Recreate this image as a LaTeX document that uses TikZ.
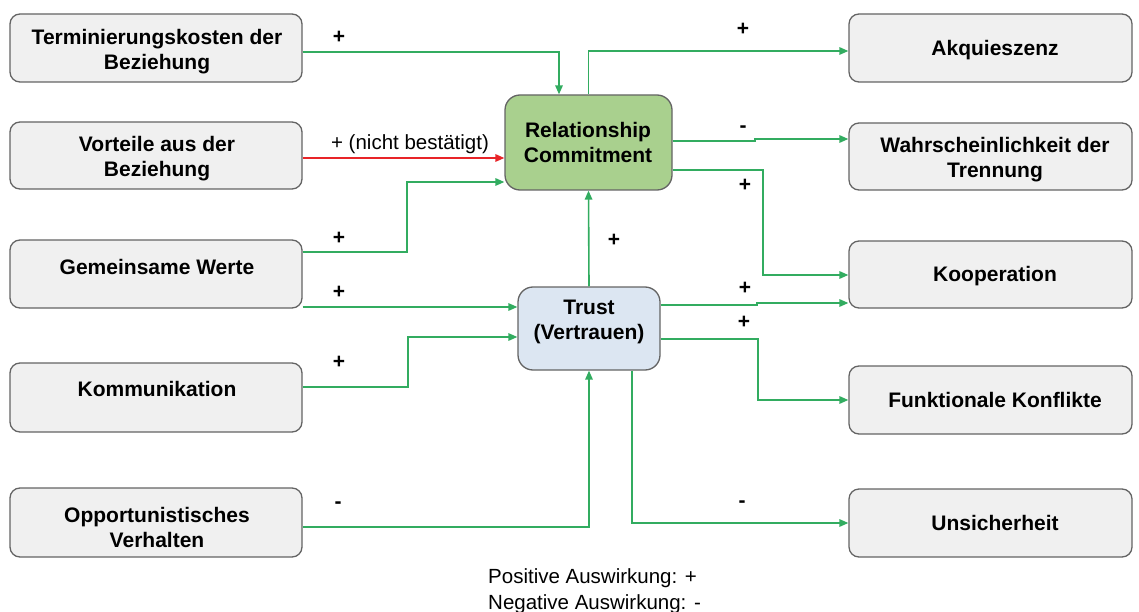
\documentclass[tikz,border=0pt]{standalone}
\usepackage{fontspec}
\setmainfont{Liberation Sans}
\usetikzlibrary{arrows.meta,calc}
\definecolor{linegreen}{RGB}{50,172,96}
\definecolor{negred}{RGB}{232,36,40}
\definecolor{boxfill}{RGB}{240,240,240}
\definecolor{boxline}{RGB}{100,100,100}
\definecolor{rcfill}{RGB}{169,208,142}
\definecolor{trustfill}{RGB}{220,230,242}
\begin{document}
\begin{tikzpicture}[x=1pt,y=-1pt,
  box/.style={draw=boxline, line width=1.3pt, fill=boxfill, rounded corners=10pt, inner sep=0pt},
  lbox/.style={box, minimum width=292pt},
  rbox/.style={box, minimum width=283pt},
  txt/.style={font=\fontsize{21}{25}\selectfont\bfseries, align=center, inner sep=0pt},
  sign/.style={font=\fontsize{21}{25}\selectfont\bfseries, inner sep=0pt},
  plain/.style={font=\fontsize{20.5}{26}\selectfont, inner sep=0pt},
  conn/.style={draw=linegreen, line width=1.6pt, -{Triangle[length=9pt,width=7.5pt]}},
  negconn/.style={conn, draw=negred}
]
\useasboundingbox (0,0) rectangle (1139,612);

% left column: influencing factors
\node[lbox, minimum height=68pt] (termin)  at (156,48)    {};
\node[lbox, minimum height=67pt] (vorteil) at (156,155.5) {};
\node[lbox, minimum height=68pt] (gemein)  at (156,274)   {};
\node[lbox, minimum height=69pt] (komm)    at (156,397.5) {};
\node[lbox, minimum height=69pt] (opport)  at (156,522.5) {};

% right column: outcomes
\node[rbox, minimum height=68pt] (akq)    at (990.5,48)    {};
\node[rbox, minimum height=67pt] (wahr)   at (990.5,156.5) {};
\node[rbox, minimum height=67pt] (koop)   at (990.5,274.5) {};
\node[rbox, minimum height=68pt] (funk)   at (990.5,400)   {};
\node[rbox, minimum height=68pt] (unsich) at (990.5,523)   {};

% central constructs
\node[box, fill=rcfill, rounded corners=15pt, minimum width=167pt, minimum height=95pt] (rc) at (588.5,142.5) {};
\node[box, fill=trustfill, rounded corners=15pt, minimum width=142pt, minimum height=83pt] (trust) at (589,328.5) {};

% box captions
\node[txt] (termin-t)  at (157,52)  {Terminierungskosten der\\Beziehung};
\node[txt] (vorteil-t) at (157,159) {Vorteile aus der\\Beziehung};
\node[txt] (gemein-t)  at (157,267) {Gemeinsame Werte};
\node[txt] (komm-t)    at (157,389) {Kommunikation};
\node[txt] (opport-t)  at (157,527) {Opportunistisches\\Verhalten};
\node[txt] (akq-t)     at (995,50)  {Akquieszenz};
\node[txt] (wahr-t)    at (995,160) {Wahrscheinlichkeit der\\Trennung};
\node[txt] (koop-t)    at (995,276) {Kooperation};
\node[txt] (funk-t)    at (995,400) {Funktionale Konflikte};
\node[txt] (unsich-t)  at (995,523) {Unsicherheit};
\node[txt] (rc-t)      at (588,142) {Relationship\\Commitment};
\node[txt] (trust-t)   at (589,322) {Trust\\(Vertrauen)};

% inputs to Relationship Commitment
\draw[conn] (termin.east |- 0,52) -- (559,52) -- (559,0 |- rc.north);
\draw[negconn] (vorteil.east |- 0,158) -- (rc.west |- 0,158);
\draw[conn] (gemein.east |- 0,252) -- (407,252) -- (407,182) -- (rc.west |- 0,182);
\draw[conn] (trust.north) -- (rc.south);

% inputs to Trust
\draw[conn] (gemein.east |- 0,307) -- (trust.west |- 0,307);
\draw[conn] (komm.east |- 0,387) -- (408,387) -- (408,337) -- (trust.west |- 0,337);
\draw[conn] (opport.east |- 0,527) -| (trust.south);

% outcomes of Relationship Commitment
\draw[conn] (rc.north) |- (akq.west |- 0,51);
\draw[conn] (rc.east |- 0,141) -- (755,141) -- (755,139) -- (wahr.west |- 0,139);
\draw[conn] (rc.east |- 0,170) -- (763,170) -- (763,275) -- (koop.west |- 0,275);

% outcomes of Trust
\draw[conn] (trust.east |- 0,305) -- (757,305) -- (757,303) -- (koop.west |- 0,303);
\draw[conn] (trust.east |- 0,339) -- (758,339) -- (758,400) -- (funk.west);
\draw[conn] (632,0 |- trust.south) -- (632,523) -- (unsich.west);

% effect signs
\node[sign] (s1)  at (339,37)  {+};
\node[plain] (s2) at (410,144) {+ (nicht bestätigt)};
\node[sign] (s3)  at (339,238) {+};
\node[sign] (s4)  at (339,292) {+};
\node[sign] (s5)  at (339,362) {+};
\node[sign] (s6)  at (338,505) {-};
\node[sign] (s7)  at (614,240) {+};
\node[sign] (s8)  at (743,29)  {+};
\node[sign] (s9)  at (743,129) {-};
\node[sign] (s10) at (745,185) {+};
\node[sign] (s11) at (745,288) {+};
\node[sign] (s12) at (744,322) {+};
\node[sign] (s13) at (742,504) {-};

% legend
\node[plain, align=left, anchor=west] (legend) at (488,591) {Positive Auswirkung: +\\Negative Auswirkung: -};
\end{tikzpicture}
\end{document}
